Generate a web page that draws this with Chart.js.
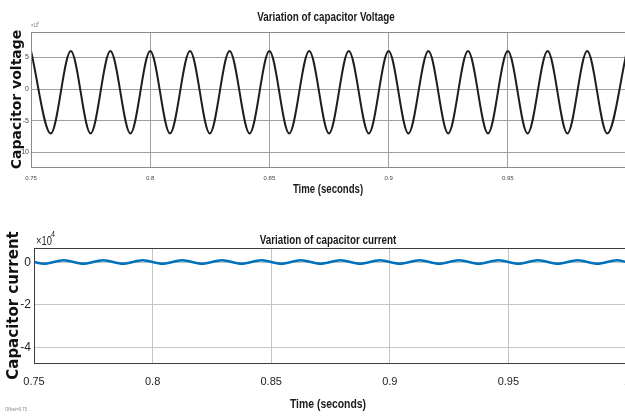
<!DOCTYPE html>
<html><head><meta charset="utf-8">
<script src="https://cdn.jsdelivr.net/npm/chart.js@4"></script>
<style>
html,body{margin:0;padding:0;background:#fff;overflow:hidden;width:625px;height:418px;}
#c1{position:absolute;left:0;top:0;}
#c2{position:absolute;left:0;top:200px;}
</style></head><body>
<canvas id="c1" width="628" height="200"></canvas>
<canvas id="c2" width="628" height="218"></canvas>
<script>
// ---- data (values in units of 1e4) ----
const voltageTime = [0.75, 0.7583, 0.7667, 0.775, 0.7833, 0.7917, 0.8, 0.8083, 0.8167, 0.825,
  0.8333, 0.8417, 0.85, 0.8583, 0.8667, 0.875, 0.8833, 0.8917, 0.9, 0.9083,
  0.9167, 0.925, 0.9333, 0.9417, 0.95, 0.9583, 0.9667, 0.975, 0.9833, 0.9917, 1.0];
const voltage = [6.0, -7.0, 6.0, -7.0, 6.0, -7.0, 6.0, -7.0, 6.0, -7.0,
  6.0, -7.0, 6.0, -7.0, 6.0, -7.0, 6.0, -7.0, 6.0, -7.0,
  6.0, -7.0, 6.0, -7.0, 6.0, -7.0, 6.0, -7.0, 6.0, -7.0, 6.0];
const currentTime = [0.75, 0.7542, 0.7625, 0.7708, 0.7792, 0.7875, 0.7958, 0.8042, 0.8125, 0.8208,
  0.8292, 0.8375, 0.8458, 0.8542, 0.8625, 0.8708, 0.8792, 0.8875, 0.8958, 0.9042,
  0.9125, 0.9208, 0.9292, 0.9375, 0.9458, 0.9542, 0.9625, 0.9708, 0.9792, 0.9875, 0.9958, 1.0];
const current = [0.01, -0.07, 0.09, -0.07, 0.09, -0.07, 0.09, -0.07, 0.09, -0.07,
  0.09, -0.07, 0.09, -0.07, 0.09, -0.07, 0.09, -0.07, 0.09, -0.07,
  0.09, -0.07, 0.09, -0.07, 0.09, -0.07, 0.09, -0.07, 0.09, -0.07, 0.09, 0.01];
const xTicks = [0.75, 0.8, 0.85, 0.9, 0.95, 1];
const voltageTicks = [-10, -5, 0, 5];
const currentTicks = [-4, -2, 0];
const voltageRange = [-12.3, 9.0];
const currentRange = [-4.73, 0.67];
const xRange = [0.75, 1.0];

const SANS = '"Liberation Sans", Arial, sans-serif';

// draws text horizontally condensed (to imitate a narrow face)
function narrowText(ctx, text, x, y, font, color, sx, align) {
  ctx.save();
  ctx.translate(x, y);
  ctx.scale(sx, 1);
  ctx.font = font;
  ctx.fillStyle = color;
  ctx.textAlign = align || 'center';
  ctx.textBaseline = 'middle';
  ctx.fillText(text, 0, 0);
  ctx.restore();
}

const framePlugin = {
  id: 'frame',
  afterDraw(chart, args, opts) {
    const {ctx, chartArea: a} = chart;
    ctx.save();
    ctx.strokeStyle = opts.color;
    ctx.lineWidth = 1;
    ctx.strokeRect(Math.round(a.left) + 0.5, Math.round(a.top) + 0.5,
      Math.round(a.right - a.left), Math.round(a.bottom - a.top));
    ctx.restore();
  }
};
const notesPlugin = {
  id: 'notes',
  afterDraw(chart, args, opts) {
    const ctx = chart.ctx;
    (opts.items || []).forEach(it => {
      narrowText(ctx, it.text, it.x, it.y, it.font, it.color, it.sx || 1, it.align || 'center');
    });
  }
};

function makeChart(id, cfg) {
  return new Chart(document.getElementById(id), {
    type: 'line',
    data: {
      datasets: [{
        data: cfg.t.map((t, i) => ({x: t, y: cfg.v[i]})),
        borderColor: cfg.lineColor,
        borderWidth: cfg.lineWidth,
        pointRadius: 0,
        fill: false,
        cubicInterpolationMode: 'monotone'
      }]
    },
    options: {
      responsive: false,
      animation: false,
      devicePixelRatio: 1,
      layout: {padding: {left: 0, right: 1, top: cfg.plotTop, bottom: 0}},
      plugins: {
        legend: {display: false},
        tooltip: {enabled: false},
        title: {display: false},
        frame: {color: cfg.frameColor},
        notes: {items: cfg.notes}
      },
      scales: {
        x: {
          type: 'linear', min: xRange[0], max: xRange[1],
          afterBuildTicks: s => { s.ticks = xTicks.map(v => ({value: v})); },
          afterFit: s => { s.height = cfg.xHeight; s.paddingLeft = 0; s.paddingRight = 0; },
          grid: {color: cfg.gridColor, lineWidth: 1, drawTicks: false},
          border: {display: false},
          ticks: {
            color: cfg.tickColor, padding: cfg.xTickPad, maxRotation: 0, autoSkip: false,
            font: {family: SANS, size: cfg.tickSize},
            callback: v => String(v)
          },
          title: {display: false}
        },
        y: {
          type: 'linear', min: cfg.yRange[0], max: cfg.yRange[1],
          afterBuildTicks: s => { s.ticks = cfg.yTicks.map(v => ({value: v})); },
          afterFit: s => { s.width = cfg.yWidth; s.paddingTop = 0; s.paddingBottom = 0; },
          grid: {color: cfg.gridColor, lineWidth: 1, drawTicks: false},
          border: {display: false},
          ticks: {
            color: cfg.tickColor, padding: cfg.yTickPad,
            font: {family: SANS, size: cfg.yTickSize || cfg.tickSize},
            callback: v => String(v)
          },
          title: {
            display: true, text: cfg.yTitle, color: '#111',
            font: {family: '"DejaVu Sans", sans-serif', size: cfg.yTitleSize, weight: 'bold', lineHeight: 1},
            padding: {top: cfg.yTitleLeft, bottom: 0}
          }
        }
      }
    },
    plugins: [framePlugin, notesPlugin]
  });
}

makeChart('c1', {
  t: voltageTime, v: voltage, lineColor: '#1e1e1e', lineWidth: 2,
  plotTop: 32,
  frameColor: '#8a8a8a', gridColor: '#a0a0a0', tickColor: '#444',
  tickSize: 6, yTickSize: 7, xTickPad: 8, yTickPad: 2, xHeight: 33,
  yRange: voltageRange, yTicks: voltageTicks, yWidth: 31,
  yTitle: 'Capacitor voltage', yTitleSize: 14, yTitleLeft: 10,
  notes: [
    {text: 'Variation of capacitor Voltage', x: 326, y: 18, font: 'bold 12px ' + SANS, color: '#1a1a1a', sx: 0.82},
    {text: 'Time (seconds)', x: 328, y: 190, font: 'bold 12px ' + SANS, color: '#1a1a1a', sx: 0.8},
    {text: '\u00d710', x: 31, y: 26, font: '5px ' + SANS, color: '#777', sx: 0.85, align: 'left'},
    {text: '4', x: 37, y: 23, font: '4px ' + SANS, color: '#777', sx: 0.85, align: 'left'}
  ]
});

makeChart('c2', {
  t: currentTime, v: current, lineColor: '#0072bd', lineWidth: 2.5,
  plotTop: 48,
  frameColor: '#3c3c3c', gridColor: '#c4c4c4', tickColor: '#1e1e1e',
  tickSize: 11, yTickSize: 12, xTickPad: 12, yTickPad: 3, xHeight: 55,
  yRange: currentRange, yTicks: currentTicks, yWidth: 34,
  yTitle: 'Capacitor current', yTitleSize: 15, yTitleLeft: 7,
  notes: [
    {text: 'Variation of capacitor current', x: 328, y: 41, font: 'bold 12px ' + SANS, color: '#1a1a1a', sx: 0.82},
    {text: 'Time (seconds)', x: 328, y: 204, font: 'bold 13px ' + SANS, color: '#1a1a1a', sx: 0.8},
    {text: '\u00d710', x: 36, y: 41, font: '13px ' + SANS, color: '#262626', sx: 0.72, align: 'left'},
    {text: '4', x: 51, y: 35, font: '9px ' + SANS, color: '#262626', sx: 0.8, align: 'left'},
    {text: 'Offset=0.75', x: 5, y: 210, font: '5px ' + SANS, color: '#888', sx: 0.85, align: 'left'}
  ]
});
</script>
</body></html>
